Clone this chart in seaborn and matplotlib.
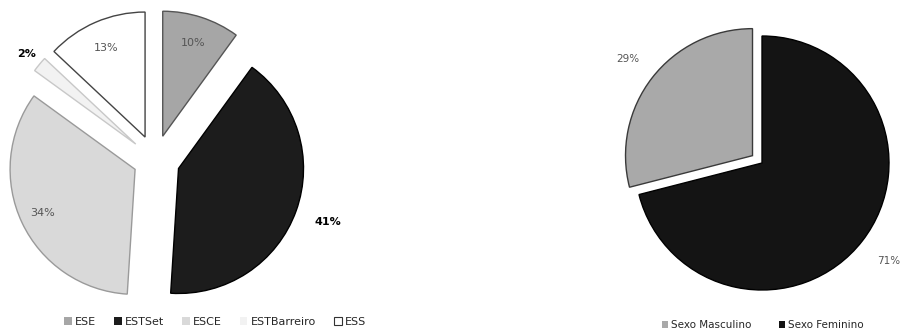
import matplotlib
matplotlib.use("Agg")
import matplotlib.pyplot as plt
import seaborn as sns
import numpy as np
from matplotlib.patches import Patch

# ---- data ----
escolas = ["ESE", "ESTSet", "ESCE", "ESTBarreiro", "ESS"]
escolas_pct = [10, 41, 34, 2, 13]
sexo = ["Sexo Masculino", "Sexo Feminino"]
sexo_pct = [29, 71]

# ---- style ----
sns.set_theme(style="white")
plt.rcParams['font.family'] = ['DejaVu Sans']

esc_colors = ["#a6a6a6", "#1c1c1c", "#d9d9d9", "#f2f2f2", "#ffffff"]
esc_edges = ["#555555", "#000000", "#9a9a9a", "#c8c8c8", "#444444"]
esc_lbl_dist = [0.78, 1.27, 0.82, 1.13, 0.78]
esc_lbl_col = ["#555555", "#000000", "#555555", "#000000", "#555555"]
esc_lbl_wt = ["normal", "bold", "normal", "bold", "normal"]

sex_colors = ["#a9a9a9", "#141414"]
sex_edges = ["#3a3a3a", "#000000"]
sex_lbl_dist = [1.24, 1.26]

fig = plt.figure(figsize=(9.16, 3.34), dpi=100)
ax = fig.add_axes([0, 0, 1, 1])


def draw_pie(values, colors, edges, center, radius, explode, counterclock, dists, lcols, lwts, fs):
    wedges, _ = ax.pie(values, colors=colors, startangle=90, counterclock=counterclock,
                       explode=explode, radius=radius, center=center,
                       wedgeprops=dict(linewidth=1.0))
    for w, ec, v, d, c, wt in zip(wedges, edges, values, dists, lcols, lwts):
        w.set_edgecolor(ec)
        th = np.deg2rad((w.theta1 + w.theta2) / 2)
        cx, cy = w.center
        ax.text(cx + d * w.r * np.cos(th), cy + d * w.r * np.sin(th), f"{v}%",
                ha="center", va="center", fontsize=fs, color=c, fontweight=wt)
    return wedges


draw_pie(escolas_pct, esc_colors, esc_edges, (155, 174), 125, [25, 25, 22, 25, 25], False,
         esc_lbl_dist, esc_lbl_col, esc_lbl_wt, 8)
draw_pie(sexo_pct, sex_colors, sex_edges, (762, 171), 127, [12, 0], True,
         sex_lbl_dist, ["#555555", "#555555"], ["normal", "normal"], 7.5)

ax.set_xlim(0, 916)
ax.set_ylim(0, 334)
ax.set_aspect("equal")
ax.axis("off")

h1 = [Patch(facecolor=c, edgecolor=("#333333" if c == "#ffffff" else "none"), linewidth=0.8)
      for c in esc_colors]
fig.legend(h1, escolas, loc="center", bbox_to_anchor=(215 / 916, 1 - 322 / 334), ncol=5,
           frameon=False, fontsize=8, handlelength=0.7, handleheight=0.7,
           handletextpad=0.3, columnspacing=1.6)

h2 = [Patch(facecolor=c, edgecolor="none") for c in sex_colors]
fig.legend(h2, sexo, loc="center", bbox_to_anchor=(763 / 916, 1 - 325 / 334), ncol=2,
           frameon=False, fontsize=7.5, handlelength=0.6, handleheight=0.6,
           handletextpad=0.3, columnspacing=2.6)

fig.savefig("out.png", dpi=100)
